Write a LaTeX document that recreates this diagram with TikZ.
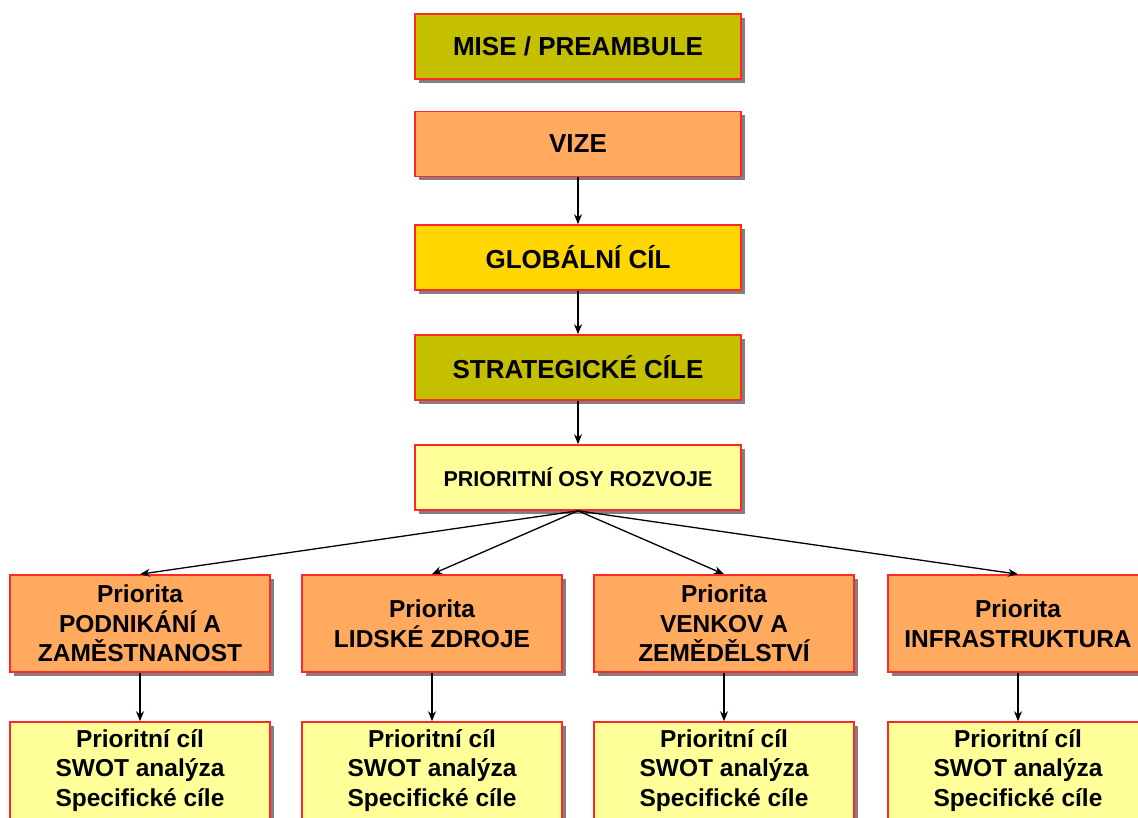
\documentclass[tikz,border=0pt]{standalone}
\usepackage{fontspec}
\setmainfont{Liberation Sans}
\usetikzlibrary{shadows,arrows.meta}
\definecolor{olivebox}{RGB}{196,192,0}
\definecolor{orangebox}{RGB}{255,170,95}
\definecolor{goldbox}{RGB}{255,214,0}
\definecolor{paleyellow}{RGB}{255,255,153}
\definecolor{redline}{RGB}{255,40,40}
\begin{document}
\begin{tikzpicture}[x=1pt,y=-1pt,
  box/.style={draw=redline, line width=1.6pt, inner sep=0pt, align=center,
    font=\bfseries, text=black,
    general shadow={fill=black!50, shadow xshift=4pt, shadow yshift=-4pt}},
  topbox/.style={box, minimum width=326pt, minimum height=65pt, font=\fontsize{26}{30}\selectfont\bfseries},
  pribox/.style={box, fill=orangebox, minimum width=260pt, minimum height=97pt, font=\fontsize{24.5}{29.5}\selectfont\bfseries},
  cilbox/.style={box, fill=paleyellow, minimum width=260pt, minimum height=97pt, font=\fontsize{24.5}{29.5}\selectfont\bfseries},
  arr/.style={draw=black, line width=1.3pt, -{Stealth[length=10pt,width=8pt]}}]
\useasboundingbox[fill=white] (0,0) rectangle (1138,818);
\node[topbox, fill=olivebox] (mise) at (578,46.5) {MISE / PREAMBULE};
\node[topbox, fill=orangebox] (vize) at (578,144) {VIZE};
\node[topbox, fill=goldbox] (glob) at (578,257.5) {GLOBÁLNÍ CÍL};
\node[topbox, fill=olivebox] (strat) at (578,367.5) {STRATEGICKÉ CÍLE};
\node[topbox, fill=paleyellow, font=\fontsize{21.5}{26}\selectfont\bfseries] (osy) at (578,477.5) {PRIORITNÍ OSY ROZVOJE};
\node[pribox] (p1) at (140,623.5) {Priorita\\PODNIKÁNÍ A\\ZAMĚSTNANOST};
\node[pribox] (p2) at (432,623.5) {Priorita\\LIDSKÉ ZDROJE};
\node[pribox] (p3) at (724,623.5) {Priorita\\VENKOV A\\ZEMĚDĚLSTVÍ};
\node[pribox] (p4) at (1018,623.5) {Priorita\\INFRASTRUKTURA};
\node[cilbox] (c1) at (140,770.5) {Prioritní cíl\\SWOT analýza\\Specifické cíle};
\node[cilbox] (c2) at (432,770.5) {Prioritní cíl\\SWOT analýza\\Specifické cíle};
\node[cilbox] (c3) at (724,770.5) {Prioritní cíl\\SWOT analýza\\Specifické cíle};
\node[cilbox] (c4) at (1018,770.5) {Prioritní cíl\\SWOT analýza\\Specifické cíle};
\draw[arr] (vize) -- (glob);
\draw[arr] (glob) -- (strat);
\draw[arr] (strat) -- (osy);
\foreach \i in {1,2,3,4}{
  \draw[arr] (osy.south) -- (p\i.north);
  \draw[arr] (p\i) -- (c\i);
}
\end{tikzpicture}
\end{document}
